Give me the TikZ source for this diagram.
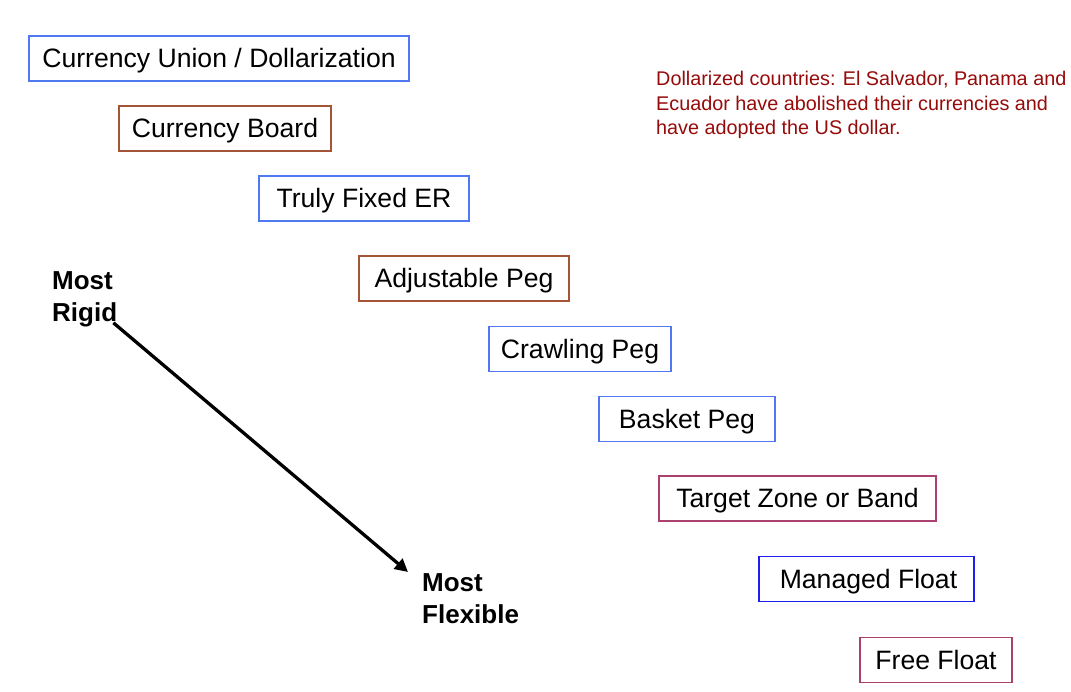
\documentclass[tikz,border=0pt]{standalone}
\usepackage{fontspec}
\setmainfont{Liberation Sans}
\usetikzlibrary{arrows.meta}
\definecolor{lblue}{RGB}{80,120,240}
\definecolor{dblue}{RGB}{30,30,240}
\definecolor{brownb}{RGB}{165,85,55}
\definecolor{maroonb}{RGB}{170,65,110}
\definecolor{notered}{RGB}{150,10,10}
\tikzset{
  regime/.style={draw=#1, line width=1.4pt, inner sep=0pt, text height=18.9pt, text depth=0pt,
    minimum height=45pt, font=\fontsize{26.6}{30}\selectfont, text=black},
  extreme/.style={anchor=north west, inner sep=0pt, align=left, font=\fontsize{26}{32}\selectfont\bfseries},
  arrowline/.style={line width=3.3pt, -{Triangle[length=13pt,width=13pt]}}
}
\begin{document}
\begin{tikzpicture}[x=1pt,y=-1pt]
\useasboundingbox (0,0) rectangle (1071,692);
\node[regime=lblue, minimum width=380pt] (cu) at (219,58.5) {Currency Union / Dollarization};
\node[regime=brownb, minimum width=212pt] (cb) at (225,128.5) {Currency Board};
\node[regime=lblue, minimum width=210pt] (tf) at (364,198.5) {Truly Fixed ER\hspace{8pt}};
\node[regime=brownb, minimum width=210pt] (ap) at (464,278.5) {Adjustable Peg};
\node[regime=lblue, minimum width=182pt] (cp) at (580,349) {Crawling Peg};
\node[regime=lblue, minimum width=176pt] (bp) at (687,419) {Basket Peg};
\node[regime=maroonb, minimum width=277pt] (tz) at (797.5,498.5) {Target Zone or Band\hspace{12pt}};
\node[regime=dblue, minimum width=215pt] (mf) at (866.5,579) {\hspace{4pt}Managed Float};
\node[regime=maroonb, minimum width=152pt] (ff) at (936,660) {Free Float};
\node[anchor=north west, inner sep=0pt, align=left, text=notered,
  font=\fontsize{19.8}{24.5}\selectfont] (note) at (656,71)
  {Dollarized countries: El Salvador, Panama and\\Ecuador have abolished their currencies and\\have adopted the US dollar.};
\node[extreme] (rigid) at (52,271) {Most\\Rigid};
\node[extreme] (flex) at (422,573) {Most\\Flexible};
\draw[arrowline] ([shift={(-4,-4)}]rigid.south east) -- ([shift={(-14,-1)}]flex.north west);
\end{tikzpicture}
\end{document}
